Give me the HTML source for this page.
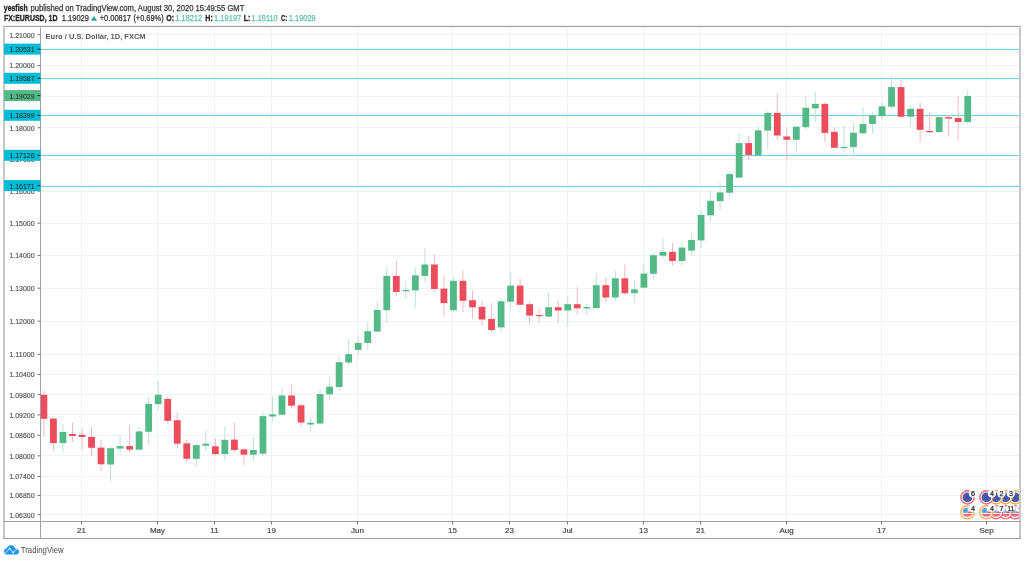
<!DOCTYPE html>
<html><head><meta charset="utf-8"><title>EURUSD chart</title>
<style>html,body{margin:0;padding:0;background:#fff;width:1024px;height:561px;overflow:hidden}svg{display:block;will-change:transform}</style>
</head><body>
<svg width="1024" height="561" viewBox="0 0 1024 561"><rect x="0" y="0" width="1024" height="561" fill="#fff"/>
<defs><clipPath id="pane"><rect x="41.0" y="27.0" width="979.0" height="494.0"/></clipPath></defs>
<g clip-path="url(#pane)">
<line x1="40.5" x2="1020.5" y1="34.50" y2="34.50" stroke="#edf3f8" stroke-width="1"/>
<line x1="40.5" x2="1020.5" y1="65.50" y2="65.50" stroke="#edf3f8" stroke-width="1"/>
<line x1="40.5" x2="1020.5" y1="96.50" y2="96.50" stroke="#edf3f8" stroke-width="1"/>
<line x1="40.5" x2="1020.5" y1="127.50" y2="127.50" stroke="#edf3f8" stroke-width="1"/>
<line x1="40.5" x2="1020.5" y1="159.50" y2="159.50" stroke="#edf3f8" stroke-width="1"/>
<line x1="40.5" x2="1020.5" y1="191.50" y2="191.50" stroke="#edf3f8" stroke-width="1"/>
<line x1="40.5" x2="1020.5" y1="223.50" y2="223.50" stroke="#edf3f8" stroke-width="1"/>
<line x1="40.5" x2="1020.5" y1="255.50" y2="255.50" stroke="#edf3f8" stroke-width="1"/>
<line x1="40.5" x2="1020.5" y1="288.50" y2="288.50" stroke="#edf3f8" stroke-width="1"/>
<line x1="40.5" x2="1020.5" y1="321.50" y2="321.50" stroke="#edf3f8" stroke-width="1"/>
<line x1="40.5" x2="1020.5" y1="354.50" y2="354.50" stroke="#edf3f8" stroke-width="1"/>
<line x1="40.5" x2="1020.5" y1="374.50" y2="374.50" stroke="#edf3f8" stroke-width="1"/>
<line x1="40.5" x2="1020.5" y1="394.50" y2="394.50" stroke="#edf3f8" stroke-width="1"/>
<line x1="40.5" x2="1020.5" y1="414.50" y2="414.50" stroke="#edf3f8" stroke-width="1"/>
<line x1="40.5" x2="1020.5" y1="435.50" y2="435.50" stroke="#edf3f8" stroke-width="1"/>
<line x1="40.5" x2="1020.5" y1="455.50" y2="455.50" stroke="#edf3f8" stroke-width="1"/>
<line x1="40.5" x2="1020.5" y1="476.50" y2="476.50" stroke="#edf3f8" stroke-width="1"/>
<line x1="40.5" x2="1020.5" y1="495.50" y2="495.50" stroke="#edf3f8" stroke-width="1"/>
<line x1="40.5" x2="1020.5" y1="514.50" y2="514.50" stroke="#edf3f8" stroke-width="1"/>
<line x1="81.50" x2="81.50" y1="26.5" y2="521.5" stroke="#edf3f8" stroke-width="1"/>
<line x1="157.50" x2="157.50" y1="26.5" y2="521.5" stroke="#edf3f8" stroke-width="1"/>
<line x1="214.50" x2="214.50" y1="26.5" y2="521.5" stroke="#edf3f8" stroke-width="1"/>
<line x1="271.50" x2="271.50" y1="26.5" y2="521.5" stroke="#edf3f8" stroke-width="1"/>
<line x1="357.50" x2="357.50" y1="26.5" y2="521.5" stroke="#edf3f8" stroke-width="1"/>
<line x1="452.50" x2="452.50" y1="26.5" y2="521.5" stroke="#edf3f8" stroke-width="1"/>
<line x1="509.50" x2="509.50" y1="26.5" y2="521.5" stroke="#edf3f8" stroke-width="1"/>
<line x1="567.50" x2="567.50" y1="26.5" y2="521.5" stroke="#edf3f8" stroke-width="1"/>
<line x1="643.50" x2="643.50" y1="26.5" y2="521.5" stroke="#edf3f8" stroke-width="1"/>
<line x1="700.50" x2="700.50" y1="26.5" y2="521.5" stroke="#edf3f8" stroke-width="1"/>
<line x1="786.50" x2="786.50" y1="26.5" y2="521.5" stroke="#edf3f8" stroke-width="1"/>
<line x1="881.50" x2="881.50" y1="26.5" y2="521.5" stroke="#edf3f8" stroke-width="1"/>
<line x1="986.50" x2="986.50" y1="26.5" y2="521.5" stroke="#edf3f8" stroke-width="1"/>
<line x1="40.5" x2="1020.5" y1="49.50" y2="49.50" stroke="#66d3e2" stroke-width="1.15"/>
<line x1="40.5" x2="1020.5" y1="78.50" y2="78.50" stroke="#66d3e2" stroke-width="1.15"/>
<line x1="40.5" x2="1020.5" y1="115.50" y2="115.50" stroke="#66d3e2" stroke-width="1.15"/>
<line x1="40.5" x2="1020.5" y1="155.50" y2="155.50" stroke="#66d3e2" stroke-width="1.15"/>
<line x1="40.5" x2="1020.5" y1="186.50" y2="186.50" stroke="#66d3e2" stroke-width="1.15"/>
<line x1="43.90" x2="43.90" y1="390.8" y2="436.9" stroke="#f6b8bf" stroke-width="1"/>
<rect x="40.50" y="394.7" width="6.8" height="24.1" fill="#eb4d5c"/>
<line x1="53.43" x2="53.43" y1="418.0" y2="450.6" stroke="#f6b8bf" stroke-width="1"/>
<rect x="50.03" y="418.6" width="6.8" height="24.5" fill="#eb4d5c"/>
<line x1="62.95" x2="62.95" y1="424.1" y2="452.2" stroke="#bde4d0" stroke-width="1"/>
<rect x="59.55" y="432.0" width="6.8" height="11.1" fill="#53b987"/>
<line x1="72.48" x2="72.48" y1="422.7" y2="441.8" stroke="#f6b8bf" stroke-width="1"/>
<rect x="69.08" y="434.0" width="6.8" height="2.0" fill="#eb4d5c"/>
<line x1="82.00" x2="82.00" y1="428.0" y2="450.2" stroke="#f6b8bf" stroke-width="1"/>
<rect x="78.60" y="434.8" width="6.8" height="2.2" fill="#eb4d5c"/>
<line x1="91.52" x2="91.52" y1="426.5" y2="455.5" stroke="#f6b8bf" stroke-width="1"/>
<rect x="88.12" y="436.9" width="6.8" height="10.9" fill="#eb4d5c"/>
<line x1="101.05" x2="101.05" y1="439.8" y2="471.2" stroke="#f6b8bf" stroke-width="1"/>
<rect x="97.65" y="447.6" width="6.8" height="16.7" fill="#eb4d5c"/>
<line x1="110.57" x2="110.57" y1="446.3" y2="481.0" stroke="#bde4d0" stroke-width="1"/>
<rect x="107.17" y="448.2" width="6.8" height="16.3" fill="#53b987"/>
<line x1="120.10" x2="120.10" y1="434.9" y2="452.2" stroke="#bde4d0" stroke-width="1"/>
<rect x="116.70" y="446.1" width="6.8" height="2.5" fill="#53b987"/>
<line x1="129.62" x2="129.62" y1="425.7" y2="452.5" stroke="#f6b8bf" stroke-width="1"/>
<rect x="126.22" y="446.1" width="6.8" height="3.5" fill="#eb4d5c"/>
<line x1="139.14" x2="139.14" y1="426.5" y2="449.8" stroke="#bde4d0" stroke-width="1"/>
<rect x="135.74" y="431.4" width="6.8" height="18.3" fill="#53b987"/>
<line x1="148.67" x2="148.67" y1="397.1" y2="444.7" stroke="#bde4d0" stroke-width="1"/>
<rect x="145.27" y="403.9" width="6.8" height="27.9" fill="#53b987"/>
<line x1="158.19" x2="158.19" y1="381.0" y2="410.4" stroke="#bde4d0" stroke-width="1"/>
<rect x="154.79" y="394.7" width="6.8" height="9.4" fill="#53b987"/>
<line x1="167.72" x2="167.72" y1="397.1" y2="423.5" stroke="#f6b8bf" stroke-width="1"/>
<rect x="164.32" y="399.0" width="6.8" height="21.8" fill="#eb4d5c"/>
<line x1="177.24" x2="177.24" y1="413.0" y2="447.6" stroke="#f6b8bf" stroke-width="1"/>
<rect x="173.84" y="420.2" width="6.8" height="23.5" fill="#eb4d5c"/>
<line x1="186.76" x2="186.76" y1="439.8" y2="462.4" stroke="#f6b8bf" stroke-width="1"/>
<rect x="183.36" y="443.3" width="6.8" height="15.5" fill="#eb4d5c"/>
<line x1="196.29" x2="196.29" y1="444.1" y2="467.3" stroke="#bde4d0" stroke-width="1"/>
<rect x="192.89" y="445.1" width="6.8" height="13.7" fill="#53b987"/>
<line x1="205.81" x2="205.81" y1="430.0" y2="451.0" stroke="#bde4d0" stroke-width="1"/>
<rect x="202.41" y="443.7" width="6.8" height="2.0" fill="#53b987"/>
<line x1="215.34" x2="215.34" y1="438.4" y2="455.5" stroke="#f6b8bf" stroke-width="1"/>
<rect x="211.94" y="446.3" width="6.8" height="7.8" fill="#eb4d5c"/>
<line x1="224.86" x2="224.86" y1="426.5" y2="460.8" stroke="#bde4d0" stroke-width="1"/>
<rect x="221.46" y="439.8" width="6.8" height="14.3" fill="#53b987"/>
<line x1="234.38" x2="234.38" y1="422.5" y2="452.4" stroke="#f6b8bf" stroke-width="1"/>
<rect x="230.98" y="439.6" width="6.8" height="10.4" fill="#eb4d5c"/>
<line x1="243.91" x2="243.91" y1="447.8" y2="465.1" stroke="#f6b8bf" stroke-width="1"/>
<rect x="240.51" y="449.4" width="6.8" height="5.3" fill="#eb4d5c"/>
<line x1="253.43" x2="253.43" y1="438.0" y2="460.2" stroke="#bde4d0" stroke-width="1"/>
<rect x="250.03" y="450.0" width="6.8" height="4.7" fill="#53b987"/>
<line x1="262.96" x2="262.96" y1="412.2" y2="456.3" stroke="#bde4d0" stroke-width="1"/>
<rect x="259.56" y="416.1" width="6.8" height="37.6" fill="#53b987"/>
<line x1="272.48" x2="272.48" y1="396.5" y2="421.0" stroke="#bde4d0" stroke-width="1"/>
<rect x="269.08" y="414.3" width="6.8" height="2.2" fill="#53b987"/>
<line x1="282.00" x2="282.00" y1="388.0" y2="414.7" stroke="#bde4d0" stroke-width="1"/>
<rect x="278.60" y="395.5" width="6.8" height="19.2" fill="#53b987"/>
<line x1="291.53" x2="291.53" y1="384.7" y2="408.8" stroke="#f6b8bf" stroke-width="1"/>
<rect x="288.13" y="395.5" width="6.8" height="10.2" fill="#eb4d5c"/>
<line x1="301.05" x2="301.05" y1="403.7" y2="426.9" stroke="#f6b8bf" stroke-width="1"/>
<rect x="297.65" y="405.3" width="6.8" height="17.2" fill="#eb4d5c"/>
<line x1="310.58" x2="310.58" y1="417.0" y2="431.8" stroke="#bde4d0" stroke-width="1"/>
<rect x="307.18" y="422.9" width="6.8" height="1.6" fill="#53b987"/>
<line x1="320.10" x2="320.10" y1="389.6" y2="424.5" stroke="#bde4d0" stroke-width="1"/>
<rect x="316.70" y="394.1" width="6.8" height="29.4" fill="#53b987"/>
<line x1="329.62" x2="329.62" y1="377.3" y2="399.4" stroke="#bde4d0" stroke-width="1"/>
<rect x="326.22" y="386.7" width="6.8" height="7.6" fill="#53b987"/>
<line x1="339.15" x2="339.15" y1="356.7" y2="391.0" stroke="#bde4d0" stroke-width="1"/>
<rect x="335.75" y="362.2" width="6.8" height="24.9" fill="#53b987"/>
<line x1="348.67" x2="348.67" y1="339.0" y2="365.5" stroke="#bde4d0" stroke-width="1"/>
<rect x="345.27" y="354.1" width="6.8" height="8.4" fill="#53b987"/>
<line x1="358.20" x2="358.20" y1="336.1" y2="354.7" stroke="#bde4d0" stroke-width="1"/>
<rect x="354.80" y="342.9" width="6.8" height="6.9" fill="#53b987"/>
<line x1="367.72" x2="367.72" y1="322.4" y2="349.8" stroke="#bde4d0" stroke-width="1"/>
<rect x="364.32" y="331.2" width="6.8" height="11.7" fill="#53b987"/>
<line x1="377.24" x2="377.24" y1="302.2" y2="331.6" stroke="#bde4d0" stroke-width="1"/>
<rect x="373.84" y="310.0" width="6.8" height="21.6" fill="#53b987"/>
<line x1="386.77" x2="386.77" y1="267.5" y2="322.7" stroke="#bde4d0" stroke-width="1"/>
<rect x="383.37" y="275.9" width="6.8" height="34.3" fill="#53b987"/>
<line x1="396.29" x2="396.29" y1="260.6" y2="295.9" stroke="#f6b8bf" stroke-width="1"/>
<rect x="392.89" y="275.9" width="6.8" height="16.1" fill="#eb4d5c"/>
<line x1="405.82" x2="405.82" y1="281.2" y2="298.8" stroke="#bde4d0" stroke-width="1"/>
<rect x="402.42" y="290.0" width="6.8" height="1.2" fill="#53b987"/>
<line x1="415.34" x2="415.34" y1="267.5" y2="307.6" stroke="#bde4d0" stroke-width="1"/>
<rect x="411.94" y="275.3" width="6.8" height="15.1" fill="#53b987"/>
<line x1="424.86" x2="424.86" y1="247.8" y2="281.6" stroke="#bde4d0" stroke-width="1"/>
<rect x="421.46" y="264.5" width="6.8" height="11.4" fill="#53b987"/>
<line x1="434.39" x2="434.39" y1="254.1" y2="292.0" stroke="#f6b8bf" stroke-width="1"/>
<rect x="430.99" y="264.5" width="6.8" height="24.5" fill="#eb4d5c"/>
<line x1="443.91" x2="443.91" y1="274.9" y2="316.9" stroke="#f6b8bf" stroke-width="1"/>
<rect x="440.51" y="288.6" width="6.8" height="14.5" fill="#eb4d5c"/>
<line x1="453.44" x2="453.44" y1="277.3" y2="311.6" stroke="#bde4d0" stroke-width="1"/>
<rect x="450.04" y="280.8" width="6.8" height="29.4" fill="#53b987"/>
<line x1="462.96" x2="462.96" y1="270.4" y2="312.2" stroke="#f6b8bf" stroke-width="1"/>
<rect x="459.56" y="280.8" width="6.8" height="20.0" fill="#eb4d5c"/>
<line x1="472.48" x2="472.48" y1="290.0" y2="318.8" stroke="#f6b8bf" stroke-width="1"/>
<rect x="469.08" y="300.2" width="6.8" height="7.1" fill="#eb4d5c"/>
<line x1="482.01" x2="482.01" y1="300.9" y2="325.8" stroke="#f6b8bf" stroke-width="1"/>
<rect x="478.61" y="306.8" width="6.8" height="12.7" fill="#eb4d5c"/>
<line x1="491.53" x2="491.53" y1="303.2" y2="331.7" stroke="#f6b8bf" stroke-width="1"/>
<rect x="488.13" y="318.9" width="6.8" height="11.2" fill="#eb4d5c"/>
<line x1="501.06" x2="501.06" y1="297.9" y2="332.1" stroke="#bde4d0" stroke-width="1"/>
<rect x="497.66" y="301.3" width="6.8" height="26.1" fill="#53b987"/>
<line x1="510.58" x2="510.58" y1="271.9" y2="310.5" stroke="#bde4d0" stroke-width="1"/>
<rect x="507.18" y="285.6" width="6.8" height="16.1" fill="#53b987"/>
<line x1="520.10" x2="520.10" y1="279.1" y2="304.8" stroke="#f6b8bf" stroke-width="1"/>
<rect x="516.70" y="285.6" width="6.8" height="19.2" fill="#eb4d5c"/>
<line x1="529.63" x2="529.63" y1="301.3" y2="324.8" stroke="#f6b8bf" stroke-width="1"/>
<rect x="526.23" y="304.2" width="6.8" height="11.4" fill="#eb4d5c"/>
<line x1="539.15" x2="539.15" y1="308.1" y2="322.8" stroke="#f6b8bf" stroke-width="1"/>
<rect x="535.75" y="315.0" width="6.8" height="1.2" fill="#eb4d5c"/>
<line x1="548.68" x2="548.68" y1="292.5" y2="316.6" stroke="#bde4d0" stroke-width="1"/>
<rect x="545.28" y="307.2" width="6.8" height="9.4" fill="#53b987"/>
<line x1="558.20" x2="558.20" y1="300.9" y2="323.8" stroke="#f6b8bf" stroke-width="1"/>
<rect x="554.80" y="307.2" width="6.8" height="3.3" fill="#eb4d5c"/>
<line x1="567.72" x2="567.72" y1="295.8" y2="325.8" stroke="#bde4d0" stroke-width="1"/>
<rect x="564.32" y="304.2" width="6.8" height="6.3" fill="#53b987"/>
<line x1="577.25" x2="577.25" y1="287.2" y2="314.0" stroke="#f6b8bf" stroke-width="1"/>
<rect x="573.85" y="304.2" width="6.8" height="4.1" fill="#eb4d5c"/>
<line x1="586.77" x2="586.77" y1="303.8" y2="315.0" stroke="#bde4d0" stroke-width="1"/>
<rect x="583.37" y="307.0" width="6.8" height="1.5" fill="#53b987"/>
<line x1="596.30" x2="596.30" y1="273.4" y2="308.1" stroke="#bde4d0" stroke-width="1"/>
<rect x="592.90" y="285.2" width="6.8" height="22.9" fill="#53b987"/>
<line x1="605.82" x2="605.82" y1="277.4" y2="301.9" stroke="#f6b8bf" stroke-width="1"/>
<rect x="602.42" y="285.2" width="6.8" height="12.3" fill="#eb4d5c"/>
<line x1="615.34" x2="615.34" y1="270.9" y2="300.9" stroke="#bde4d0" stroke-width="1"/>
<rect x="611.94" y="278.3" width="6.8" height="19.2" fill="#53b987"/>
<line x1="624.87" x2="624.87" y1="264.6" y2="295.0" stroke="#f6b8bf" stroke-width="1"/>
<rect x="621.47" y="278.3" width="6.8" height="14.9" fill="#eb4d5c"/>
<line x1="634.39" x2="634.39" y1="280.3" y2="302.8" stroke="#bde4d0" stroke-width="1"/>
<rect x="630.99" y="289.3" width="6.8" height="3.9" fill="#53b987"/>
<line x1="643.92" x2="643.92" y1="264.0" y2="287.7" stroke="#bde4d0" stroke-width="1"/>
<rect x="640.52" y="273.6" width="6.8" height="14.1" fill="#53b987"/>
<line x1="653.44" x2="653.44" y1="252.5" y2="279.9" stroke="#bde4d0" stroke-width="1"/>
<rect x="650.04" y="255.2" width="6.8" height="18.6" fill="#53b987"/>
<line x1="662.96" x2="662.96" y1="238.4" y2="259.0" stroke="#bde4d0" stroke-width="1"/>
<rect x="659.56" y="251.8" width="6.8" height="3.9" fill="#53b987"/>
<line x1="672.49" x2="672.49" y1="242.4" y2="265.5" stroke="#f6b8bf" stroke-width="1"/>
<rect x="669.09" y="251.8" width="6.8" height="9.2" fill="#eb4d5c"/>
<line x1="682.01" x2="682.01" y1="241.4" y2="264.9" stroke="#bde4d0" stroke-width="1"/>
<rect x="678.61" y="247.6" width="6.8" height="13.4" fill="#53b987"/>
<line x1="691.54" x2="691.54" y1="233.5" y2="255.1" stroke="#bde4d0" stroke-width="1"/>
<rect x="688.14" y="240.0" width="6.8" height="10.6" fill="#53b987"/>
<line x1="701.06" x2="701.06" y1="210.0" y2="248.2" stroke="#bde4d0" stroke-width="1"/>
<rect x="697.66" y="214.9" width="6.8" height="25.5" fill="#53b987"/>
<line x1="710.58" x2="710.58" y1="190.4" y2="221.2" stroke="#bde4d0" stroke-width="1"/>
<rect x="707.18" y="200.8" width="6.8" height="14.5" fill="#53b987"/>
<line x1="720.11" x2="720.11" y1="182.5" y2="210.6" stroke="#bde4d0" stroke-width="1"/>
<rect x="716.71" y="192.4" width="6.8" height="8.8" fill="#53b987"/>
<line x1="729.63" x2="729.63" y1="171.8" y2="197.6" stroke="#bde4d0" stroke-width="1"/>
<rect x="726.23" y="174.1" width="6.8" height="18.6" fill="#53b987"/>
<line x1="739.16" x2="739.16" y1="132.9" y2="177.6" stroke="#bde4d0" stroke-width="1"/>
<rect x="735.76" y="143.1" width="6.8" height="34.5" fill="#53b987"/>
<line x1="748.68" x2="748.68" y1="135.9" y2="160.0" stroke="#f6b8bf" stroke-width="1"/>
<rect x="745.28" y="143.1" width="6.8" height="11.8" fill="#eb4d5c"/>
<line x1="758.20" x2="758.20" y1="125.5" y2="155.1" stroke="#bde4d0" stroke-width="1"/>
<rect x="754.80" y="130.4" width="6.8" height="24.7" fill="#53b987"/>
<line x1="767.73" x2="767.73" y1="111.4" y2="149.6" stroke="#bde4d0" stroke-width="1"/>
<rect x="764.33" y="112.9" width="6.8" height="17.7" fill="#53b987"/>
<line x1="777.25" x2="777.25" y1="93.3" y2="139.8" stroke="#f6b8bf" stroke-width="1"/>
<rect x="773.85" y="112.9" width="6.8" height="22.6" fill="#eb4d5c"/>
<line x1="786.78" x2="786.78" y1="128.6" y2="160.4" stroke="#f6b8bf" stroke-width="1"/>
<rect x="783.38" y="136.5" width="6.8" height="3.3" fill="#eb4d5c"/>
<line x1="796.30" x2="796.30" y1="126.1" y2="152.5" stroke="#bde4d0" stroke-width="1"/>
<rect x="792.90" y="126.7" width="6.8" height="13.1" fill="#53b987"/>
<line x1="805.82" x2="805.82" y1="95.3" y2="130.0" stroke="#bde4d0" stroke-width="1"/>
<rect x="802.42" y="107.8" width="6.8" height="19.3" fill="#53b987"/>
<line x1="815.35" x2="815.35" y1="91.8" y2="122.2" stroke="#bde4d0" stroke-width="1"/>
<rect x="811.95" y="103.9" width="6.8" height="4.5" fill="#53b987"/>
<line x1="824.87" x2="824.87" y1="102.5" y2="142.4" stroke="#f6b8bf" stroke-width="1"/>
<rect x="821.47" y="103.9" width="6.8" height="29.0" fill="#eb4d5c"/>
<line x1="834.40" x2="834.40" y1="127.3" y2="147.8" stroke="#f6b8bf" stroke-width="1"/>
<rect x="831.00" y="131.8" width="6.8" height="16.0" fill="#eb4d5c"/>
<line x1="843.92" x2="843.92" y1="125.3" y2="152.4" stroke="#bde4d0" stroke-width="1"/>
<rect x="840.52" y="146.9" width="6.8" height="1.2" fill="#53b987"/>
<line x1="853.44" x2="853.44" y1="122.5" y2="155.3" stroke="#bde4d0" stroke-width="1"/>
<rect x="850.04" y="132.7" width="6.8" height="14.4" fill="#53b987"/>
<line x1="862.97" x2="862.97" y1="107.3" y2="133.7" stroke="#bde4d0" stroke-width="1"/>
<rect x="859.57" y="123.9" width="6.8" height="9.4" fill="#53b987"/>
<line x1="872.49" x2="872.49" y1="112.2" y2="133.7" stroke="#bde4d0" stroke-width="1"/>
<rect x="869.09" y="115.5" width="6.8" height="8.4" fill="#53b987"/>
<line x1="882.02" x2="882.02" y1="102.4" y2="119.0" stroke="#bde4d0" stroke-width="1"/>
<rect x="878.62" y="106.3" width="6.8" height="9.8" fill="#53b987"/>
<line x1="891.54" x2="891.54" y1="76.3" y2="108.2" stroke="#bde4d0" stroke-width="1"/>
<rect x="888.14" y="87.1" width="6.8" height="19.6" fill="#53b987"/>
<line x1="901.06" x2="901.06" y1="80.2" y2="118.0" stroke="#f6b8bf" stroke-width="1"/>
<rect x="897.66" y="87.1" width="6.8" height="29.6" fill="#eb4d5c"/>
<line x1="910.59" x2="910.59" y1="106.3" y2="126.9" stroke="#bde4d0" stroke-width="1"/>
<rect x="907.19" y="108.8" width="6.8" height="7.9" fill="#53b987"/>
<line x1="920.11" x2="920.11" y1="102.4" y2="142.2" stroke="#f6b8bf" stroke-width="1"/>
<rect x="916.71" y="108.8" width="6.8" height="21.0" fill="#eb4d5c"/>
<line x1="929.64" x2="929.64" y1="111.8" y2="133.1" stroke="#f6b8bf" stroke-width="1"/>
<rect x="926.24" y="131.0" width="6.8" height="1.2" fill="#eb4d5c"/>
<line x1="939.16" x2="939.16" y1="114.1" y2="133.1" stroke="#bde4d0" stroke-width="1"/>
<rect x="935.76" y="117.1" width="6.8" height="14.9" fill="#53b987"/>
<line x1="948.68" x2="948.68" y1="115.1" y2="136.7" stroke="#f6b8bf" stroke-width="1"/>
<rect x="945.28" y="117.1" width="6.8" height="1.5" fill="#eb4d5c"/>
<line x1="958.21" x2="958.21" y1="95.9" y2="139.6" stroke="#f6b8bf" stroke-width="1"/>
<rect x="954.81" y="118.0" width="6.8" height="4.0" fill="#eb4d5c"/>
<line x1="967.73" x2="967.73" y1="90.0" y2="124.5" stroke="#bde4d0" stroke-width="1"/>
<rect x="964.33" y="95.9" width="6.8" height="26.1" fill="#53b987"/>
<circle cx="1015.1" cy="497.4" r="6.6" fill="#fff" stroke="#ffad4d" stroke-width="1.4"/>
<circle cx="1015.1" cy="497.4" r="4.9" fill="#4052ad"/>
<circle cx="1015.1" cy="497.4" r="3.1" fill="none" stroke="#cdb54e" stroke-width="0.7" stroke-dasharray="0.7 1.25"/>
<circle cx="1015.1" cy="512.3" r="6.6" fill="#fff" stroke="#f26b7b" stroke-width="1.4"/>
<clipPath id="u10151"><circle cx="1015.1" cy="512.3" r="4.9"/></clipPath>
<g clip-path="url(#u10151)"><rect x="1010.1" y="507.29999999999995" width="10" height="10" fill="#fff"/><rect x="1010.1" y="507.29999999999995" width="5.4" height="5.6" fill="#68b2f0"/><rect x="1011.3000000000001" y="508.69999999999993" width="0.8" height="3.6" fill="#3f8fdc"/><rect x="1012.9" y="508.09999999999997" width="0.8" height="4.2" fill="#3f8fdc"/><rect x="1015.5" y="511.4" width="5" height="1.6" fill="#ef5b6b"/><rect x="1010.1" y="514.0" width="10" height="1.8" fill="#ef5b6b"/><rect x="1010.1" y="516.4" width="10" height="1.5" fill="#ef5b6b"/></g>
<circle cx="1005.5" cy="497.4" r="6.6" fill="#fff" stroke="#ffad4d" stroke-width="1.4"/>
<circle cx="1005.5" cy="497.4" r="4.9" fill="#4052ad"/>
<circle cx="1005.5" cy="497.4" r="3.1" fill="none" stroke="#cdb54e" stroke-width="0.7" stroke-dasharray="0.7 1.25"/>
<circle cx="1005.5" cy="512.3" r="6.6" fill="#fff" stroke="#f26b7b" stroke-width="1.4"/>
<clipPath id="u10055"><circle cx="1005.5" cy="512.3" r="4.9"/></clipPath>
<g clip-path="url(#u10055)"><rect x="1000.5" y="507.29999999999995" width="10" height="10" fill="#fff"/><rect x="1000.5" y="507.29999999999995" width="5.4" height="5.6" fill="#68b2f0"/><rect x="1001.7" y="508.69999999999993" width="0.8" height="3.6" fill="#3f8fdc"/><rect x="1003.3" y="508.09999999999997" width="0.8" height="4.2" fill="#3f8fdc"/><rect x="1005.9" y="511.4" width="5" height="1.6" fill="#ef5b6b"/><rect x="1000.5" y="514.0" width="10" height="1.8" fill="#ef5b6b"/><rect x="1000.5" y="516.4" width="10" height="1.5" fill="#ef5b6b"/></g>
<circle cx="996.0" cy="497.4" r="6.6" fill="#fff" stroke="#ffad4d" stroke-width="1.4"/>
<circle cx="996.0" cy="497.4" r="4.9" fill="#4052ad"/>
<circle cx="996.0" cy="497.4" r="3.1" fill="none" stroke="#cdb54e" stroke-width="0.7" stroke-dasharray="0.7 1.25"/>
<circle cx="996.0" cy="512.3" r="6.6" fill="#fff" stroke="#f26b7b" stroke-width="1.4"/>
<clipPath id="u9960"><circle cx="996.0" cy="512.3" r="4.9"/></clipPath>
<g clip-path="url(#u9960)"><rect x="991.0" y="507.29999999999995" width="10" height="10" fill="#fff"/><rect x="991.0" y="507.29999999999995" width="5.4" height="5.6" fill="#68b2f0"/><rect x="992.2" y="508.69999999999993" width="0.8" height="3.6" fill="#3f8fdc"/><rect x="993.8" y="508.09999999999997" width="0.8" height="4.2" fill="#3f8fdc"/><rect x="996.4" y="511.4" width="5" height="1.6" fill="#ef5b6b"/><rect x="991.0" y="514.0" width="10" height="1.8" fill="#ef5b6b"/><rect x="991.0" y="516.4" width="10" height="1.5" fill="#ef5b6b"/></g>
<circle cx="986.5" cy="497.4" r="6.6" fill="#fff" stroke="#f26b7b" stroke-width="1.4"/>
<circle cx="986.5" cy="497.4" r="4.9" fill="#4052ad"/>
<circle cx="986.5" cy="497.4" r="3.1" fill="none" stroke="#cdb54e" stroke-width="0.7" stroke-dasharray="0.7 1.25"/>
<circle cx="986.5" cy="512.3" r="6.6" fill="#fff" stroke="#ffad4d" stroke-width="1.4"/>
<clipPath id="u9865"><circle cx="986.5" cy="512.3" r="4.9"/></clipPath>
<g clip-path="url(#u9865)"><rect x="981.5" y="507.29999999999995" width="10" height="10" fill="#fff"/><rect x="981.5" y="507.29999999999995" width="5.4" height="5.6" fill="#68b2f0"/><rect x="982.7" y="508.69999999999993" width="0.8" height="3.6" fill="#3f8fdc"/><rect x="984.3" y="508.09999999999997" width="0.8" height="4.2" fill="#3f8fdc"/><rect x="986.9" y="511.4" width="5" height="1.6" fill="#ef5b6b"/><rect x="981.5" y="514.0" width="10" height="1.8" fill="#ef5b6b"/><rect x="981.5" y="516.4" width="10" height="1.5" fill="#ef5b6b"/></g>
<circle cx="967.5" cy="497.4" r="6.6" fill="#fff" stroke="#f26b7b" stroke-width="1.4"/>
<circle cx="967.5" cy="497.4" r="4.9" fill="#4052ad"/>
<circle cx="967.5" cy="497.4" r="3.1" fill="none" stroke="#cdb54e" stroke-width="0.7" stroke-dasharray="0.7 1.25"/>
<circle cx="967.5" cy="512.3" r="6.6" fill="#fff" stroke="#ffad4d" stroke-width="1.4"/>
<clipPath id="u9675"><circle cx="967.5" cy="512.3" r="4.9"/></clipPath>
<g clip-path="url(#u9675)"><rect x="962.5" y="507.29999999999995" width="10" height="10" fill="#fff"/><rect x="962.5" y="507.29999999999995" width="5.4" height="5.6" fill="#68b2f0"/><rect x="963.7" y="508.69999999999993" width="0.8" height="3.6" fill="#3f8fdc"/><rect x="965.3" y="508.09999999999997" width="0.8" height="4.2" fill="#3f8fdc"/><rect x="967.9" y="511.4" width="5" height="1.6" fill="#ef5b6b"/><rect x="962.5" y="514.0" width="10" height="1.8" fill="#ef5b6b"/><rect x="962.5" y="516.4" width="10" height="1.5" fill="#ef5b6b"/></g>
<circle cx="972.9" cy="493.59999999999997" r="4.1" fill="#fff"/>
<text x="972.9" y="496.2" font-family="Liberation Sans, sans-serif" font-size="7.2" fill="#2a2a2a" stroke="#2a2a2a" stroke-width="0.25" text-anchor="middle">6</text>
<circle cx="972.9" cy="508.09999999999997" r="4.1" fill="#fff"/>
<text x="972.9" y="510.7" font-family="Liberation Sans, sans-serif" font-size="7.2" fill="#2a2a2a" stroke="#2a2a2a" stroke-width="0.25" text-anchor="middle">4</text>
<circle cx="991.9" cy="493.59999999999997" r="4.1" fill="#fff"/>
<text x="991.9" y="496.2" font-family="Liberation Sans, sans-serif" font-size="7.2" fill="#2a2a2a" stroke="#2a2a2a" stroke-width="0.25" text-anchor="middle">4</text>
<circle cx="991.9" cy="508.09999999999997" r="4.1" fill="#fff"/>
<text x="991.9" y="510.7" font-family="Liberation Sans, sans-serif" font-size="7.2" fill="#2a2a2a" stroke="#2a2a2a" stroke-width="0.25" text-anchor="middle">4</text>
<circle cx="1001.4" cy="493.59999999999997" r="4.1" fill="#fff"/>
<text x="1001.4" y="496.2" font-family="Liberation Sans, sans-serif" font-size="7.2" fill="#2a2a2a" stroke="#2a2a2a" stroke-width="0.25" text-anchor="middle">2</text>
<circle cx="1001.4" cy="508.09999999999997" r="4.1" fill="#fff"/>
<text x="1001.4" y="510.7" font-family="Liberation Sans, sans-serif" font-size="7.2" fill="#2a2a2a" stroke="#2a2a2a" stroke-width="0.25" text-anchor="middle">7</text>
<circle cx="1010.9" cy="493.59999999999997" r="4.1" fill="#fff"/>
<text x="1010.9" y="496.2" font-family="Liberation Sans, sans-serif" font-size="7.2" fill="#2a2a2a" stroke="#2a2a2a" stroke-width="0.25" text-anchor="middle">3</text>
<circle cx="1010.9" cy="508.09999999999997" r="4.1" fill="#fff"/>
<text x="1010.9" y="510.7" font-family="Liberation Sans, sans-serif" font-size="7.2" fill="#2a2a2a" stroke="#2a2a2a" stroke-width="0.25" text-anchor="middle" textLength="6.4" lengthAdjust="spacingAndGlyphs">11</text>
<circle cx="1020.5" cy="508.09999999999997" r="4.1" fill="#fff"/>
<text x="1020.5" y="510.7" font-family="Liberation Sans, sans-serif" font-size="7.2" fill="#2a2a2a" stroke="#2a2a2a" stroke-width="0.25" text-anchor="middle">6</text>
</g>
<rect x="3" y="26" width="2" height="513" fill="#c6c6c6"/>
<rect x="1019" y="26" width="2" height="513" fill="#c6c6c6"/>
<rect x="3" y="26" width="1018" height="1" fill="#a2a2a2"/>
<rect x="3" y="538" width="1018" height="1" fill="#a2a2a2"/>
<rect x="3" y="521" width="1018" height="1" fill="#a2a2a2"/>
<rect x="40" y="26" width="1" height="513" fill="#a2a2a2"/>
<rect x="3" y="25" width="1018" height="1" fill="#f0f0f0"/>
<rect x="3" y="27" width="1018" height="1" fill="#f3f3f3" opacity="0.6"/>
<line x1="37.5" x2="40.5" y1="34.75" y2="34.75" stroke="#777" stroke-width="1"/>
<text x="34.5" y="37.65" font-family="Liberation Sans, sans-serif" font-size="8" fill="#555" stroke="#555" stroke-width="0.18" text-anchor="end" textLength="25" lengthAdjust="spacingAndGlyphs">1.21000</text>
<line x1="37.5" x2="40.5" y1="65.50" y2="65.50" stroke="#777" stroke-width="1"/>
<text x="34.5" y="68.40" font-family="Liberation Sans, sans-serif" font-size="8" fill="#555" stroke="#555" stroke-width="0.18" text-anchor="end" textLength="25" lengthAdjust="spacingAndGlyphs">1.20000</text>
<line x1="37.5" x2="40.5" y1="127.77" y2="127.77" stroke="#777" stroke-width="1"/>
<text x="34.5" y="130.67" font-family="Liberation Sans, sans-serif" font-size="8" fill="#555" stroke="#555" stroke-width="0.18" text-anchor="end" textLength="25" lengthAdjust="spacingAndGlyphs">1.18000</text>
<line x1="37.5" x2="40.5" y1="159.30" y2="159.30" stroke="#777" stroke-width="1"/>
<text x="34.5" y="162.20" font-family="Liberation Sans, sans-serif" font-size="8" fill="#555" stroke="#555" stroke-width="0.18" text-anchor="end" textLength="25" lengthAdjust="spacingAndGlyphs">1.17000</text>
<line x1="37.5" x2="40.5" y1="191.10" y2="191.10" stroke="#777" stroke-width="1"/>
<text x="34.5" y="194.00" font-family="Liberation Sans, sans-serif" font-size="8" fill="#555" stroke="#555" stroke-width="0.18" text-anchor="end" textLength="25" lengthAdjust="spacingAndGlyphs">1.16000</text>
<line x1="37.5" x2="40.5" y1="223.18" y2="223.18" stroke="#777" stroke-width="1"/>
<text x="34.5" y="226.08" font-family="Liberation Sans, sans-serif" font-size="8" fill="#555" stroke="#555" stroke-width="0.18" text-anchor="end" textLength="25" lengthAdjust="spacingAndGlyphs">1.15000</text>
<line x1="37.5" x2="40.5" y1="255.54" y2="255.54" stroke="#777" stroke-width="1"/>
<text x="34.5" y="258.44" font-family="Liberation Sans, sans-serif" font-size="8" fill="#555" stroke="#555" stroke-width="0.18" text-anchor="end" textLength="25" lengthAdjust="spacingAndGlyphs">1.14000</text>
<line x1="37.5" x2="40.5" y1="288.18" y2="288.18" stroke="#777" stroke-width="1"/>
<text x="34.5" y="291.08" font-family="Liberation Sans, sans-serif" font-size="8" fill="#555" stroke="#555" stroke-width="0.18" text-anchor="end" textLength="25" lengthAdjust="spacingAndGlyphs">1.13000</text>
<line x1="37.5" x2="40.5" y1="321.12" y2="321.12" stroke="#777" stroke-width="1"/>
<text x="34.5" y="324.02" font-family="Liberation Sans, sans-serif" font-size="8" fill="#555" stroke="#555" stroke-width="0.18" text-anchor="end" textLength="25" lengthAdjust="spacingAndGlyphs">1.12000</text>
<line x1="37.5" x2="40.5" y1="354.35" y2="354.35" stroke="#777" stroke-width="1"/>
<text x="34.5" y="357.25" font-family="Liberation Sans, sans-serif" font-size="8" fill="#555" stroke="#555" stroke-width="0.18" text-anchor="end" textLength="25" lengthAdjust="spacingAndGlyphs">1.11000</text>
<line x1="37.5" x2="40.5" y1="374.43" y2="374.43" stroke="#777" stroke-width="1"/>
<text x="34.5" y="377.33" font-family="Liberation Sans, sans-serif" font-size="8" fill="#555" stroke="#555" stroke-width="0.18" text-anchor="end" textLength="25" lengthAdjust="spacingAndGlyphs">1.10400</text>
<line x1="37.5" x2="40.5" y1="394.62" y2="394.62" stroke="#777" stroke-width="1"/>
<text x="34.5" y="397.52" font-family="Liberation Sans, sans-serif" font-size="8" fill="#555" stroke="#555" stroke-width="0.18" text-anchor="end" textLength="25" lengthAdjust="spacingAndGlyphs">1.09800</text>
<line x1="37.5" x2="40.5" y1="414.92" y2="414.92" stroke="#777" stroke-width="1"/>
<text x="34.5" y="417.82" font-family="Liberation Sans, sans-serif" font-size="8" fill="#555" stroke="#555" stroke-width="0.18" text-anchor="end" textLength="25" lengthAdjust="spacingAndGlyphs">1.09200</text>
<line x1="37.5" x2="40.5" y1="435.33" y2="435.33" stroke="#777" stroke-width="1"/>
<text x="34.5" y="438.23" font-family="Liberation Sans, sans-serif" font-size="8" fill="#555" stroke="#555" stroke-width="0.18" text-anchor="end" textLength="25" lengthAdjust="spacingAndGlyphs">1.08600</text>
<line x1="37.5" x2="40.5" y1="455.86" y2="455.86" stroke="#777" stroke-width="1"/>
<text x="34.5" y="458.76" font-family="Liberation Sans, sans-serif" font-size="8" fill="#555" stroke="#555" stroke-width="0.18" text-anchor="end" textLength="25" lengthAdjust="spacingAndGlyphs">1.08000</text>
<line x1="37.5" x2="40.5" y1="476.50" y2="476.50" stroke="#777" stroke-width="1"/>
<text x="34.5" y="479.40" font-family="Liberation Sans, sans-serif" font-size="8" fill="#555" stroke="#555" stroke-width="0.18" text-anchor="end" textLength="25" lengthAdjust="spacingAndGlyphs">1.07400</text>
<line x1="37.5" x2="40.5" y1="495.52" y2="495.52" stroke="#777" stroke-width="1"/>
<text x="34.5" y="498.42" font-family="Liberation Sans, sans-serif" font-size="8" fill="#555" stroke="#555" stroke-width="0.18" text-anchor="end" textLength="25" lengthAdjust="spacingAndGlyphs">1.06850</text>
<line x1="37.5" x2="40.5" y1="514.64" y2="514.64" stroke="#777" stroke-width="1"/>
<text x="34.5" y="517.54" font-family="Liberation Sans, sans-serif" font-size="8" fill="#555" stroke="#555" stroke-width="0.18" text-anchor="end" textLength="25" lengthAdjust="spacingAndGlyphs">1.06300</text>
<rect x="4" y="43.64" width="36.5" height="11" fill="#00bcd4"/>
<line x1="37.5" x2="40.5" y1="49.14" y2="49.14" stroke="#222" stroke-width="1"/>
<text x="34.5" y="52.04" font-family="Liberation Sans, sans-serif" font-size="8" fill="#1a1a1a" text-anchor="end" textLength="25" lengthAdjust="spacingAndGlyphs">1.20531</text>
<rect x="4" y="72.77" width="36.5" height="11" fill="#00bcd4"/>
<line x1="37.5" x2="40.5" y1="78.27" y2="78.27" stroke="#222" stroke-width="1"/>
<text x="34.5" y="81.17" font-family="Liberation Sans, sans-serif" font-size="8" fill="#1a1a1a" text-anchor="end" textLength="25" lengthAdjust="spacingAndGlyphs">1.19587</text>
<rect x="4" y="90.10" width="36.5" height="11" fill="#53b987"/>
<line x1="37.5" x2="40.5" y1="95.60" y2="95.60" stroke="#222" stroke-width="1"/>
<text x="34.5" y="98.50" font-family="Liberation Sans, sans-serif" font-size="8" fill="#1a1a1a" text-anchor="end" textLength="25" lengthAdjust="spacingAndGlyphs">1.19029</text>
<rect x="4" y="109.76" width="36.5" height="11" fill="#00bcd4"/>
<line x1="37.5" x2="40.5" y1="115.26" y2="115.26" stroke="#222" stroke-width="1"/>
<text x="34.5" y="118.16" font-family="Liberation Sans, sans-serif" font-size="8" fill="#1a1a1a" text-anchor="end" textLength="25" lengthAdjust="spacingAndGlyphs">1.18399</text>
<rect x="4" y="149.81" width="36.5" height="11" fill="#00bcd4"/>
<line x1="37.5" x2="40.5" y1="155.31" y2="155.31" stroke="#222" stroke-width="1"/>
<text x="34.5" y="158.21" font-family="Liberation Sans, sans-serif" font-size="8" fill="#1a1a1a" text-anchor="end" textLength="25" lengthAdjust="spacingAndGlyphs">1.17126</text>
<rect x="4" y="180.15" width="36.5" height="11" fill="#00bcd4"/>
<line x1="37.5" x2="40.5" y1="185.65" y2="185.65" stroke="#222" stroke-width="1"/>
<text x="34.5" y="188.55" font-family="Liberation Sans, sans-serif" font-size="8" fill="#1a1a1a" text-anchor="end" textLength="25" lengthAdjust="spacingAndGlyphs">1.16171</text>
<line x1="81.50" x2="81.50" y1="521.5" y2="524.5" stroke="#777" stroke-width="1"/>
<text x="81.50" y="532.9" font-family="Liberation Sans, sans-serif" font-size="8" stroke="#4a4a4a" stroke-width="0.18" fill="#4a4a4a" text-anchor="middle">21</text>
<line x1="157.50" x2="157.50" y1="521.5" y2="524.5" stroke="#777" stroke-width="1"/>
<text x="157.50" y="532.9" font-family="Liberation Sans, sans-serif" font-size="8" stroke="#4a4a4a" stroke-width="0.22" fill="#4a4a4a" text-anchor="middle">May</text>
<line x1="214.50" x2="214.50" y1="521.5" y2="524.5" stroke="#777" stroke-width="1"/>
<text x="214.50" y="532.9" font-family="Liberation Sans, sans-serif" font-size="8" stroke="#4a4a4a" stroke-width="0.18" fill="#4a4a4a" text-anchor="middle">11</text>
<line x1="271.50" x2="271.50" y1="521.5" y2="524.5" stroke="#777" stroke-width="1"/>
<text x="271.50" y="532.9" font-family="Liberation Sans, sans-serif" font-size="8" stroke="#4a4a4a" stroke-width="0.18" fill="#4a4a4a" text-anchor="middle">19</text>
<line x1="357.50" x2="357.50" y1="521.5" y2="524.5" stroke="#777" stroke-width="1"/>
<text x="357.50" y="532.9" font-family="Liberation Sans, sans-serif" font-size="8" stroke="#4a4a4a" stroke-width="0.22" fill="#4a4a4a" text-anchor="middle">Jun</text>
<line x1="452.50" x2="452.50" y1="521.5" y2="524.5" stroke="#777" stroke-width="1"/>
<text x="452.50" y="532.9" font-family="Liberation Sans, sans-serif" font-size="8" stroke="#4a4a4a" stroke-width="0.18" fill="#4a4a4a" text-anchor="middle">15</text>
<line x1="509.50" x2="509.50" y1="521.5" y2="524.5" stroke="#777" stroke-width="1"/>
<text x="509.50" y="532.9" font-family="Liberation Sans, sans-serif" font-size="8" stroke="#4a4a4a" stroke-width="0.18" fill="#4a4a4a" text-anchor="middle">23</text>
<line x1="567.50" x2="567.50" y1="521.5" y2="524.5" stroke="#777" stroke-width="1"/>
<text x="567.50" y="532.9" font-family="Liberation Sans, sans-serif" font-size="8" stroke="#4a4a4a" stroke-width="0.22" fill="#4a4a4a" text-anchor="middle">Jul</text>
<line x1="643.50" x2="643.50" y1="521.5" y2="524.5" stroke="#777" stroke-width="1"/>
<text x="643.50" y="532.9" font-family="Liberation Sans, sans-serif" font-size="8" stroke="#4a4a4a" stroke-width="0.18" fill="#4a4a4a" text-anchor="middle">13</text>
<line x1="700.50" x2="700.50" y1="521.5" y2="524.5" stroke="#777" stroke-width="1"/>
<text x="700.50" y="532.9" font-family="Liberation Sans, sans-serif" font-size="8" stroke="#4a4a4a" stroke-width="0.18" fill="#4a4a4a" text-anchor="middle">21</text>
<line x1="786.50" x2="786.50" y1="521.5" y2="524.5" stroke="#777" stroke-width="1"/>
<text x="786.50" y="532.9" font-family="Liberation Sans, sans-serif" font-size="8" stroke="#4a4a4a" stroke-width="0.22" fill="#4a4a4a" text-anchor="middle">Aug</text>
<line x1="881.50" x2="881.50" y1="521.5" y2="524.5" stroke="#777" stroke-width="1"/>
<text x="881.50" y="532.9" font-family="Liberation Sans, sans-serif" font-size="8" stroke="#4a4a4a" stroke-width="0.18" fill="#4a4a4a" text-anchor="middle">17</text>
<line x1="986.50" x2="986.50" y1="521.5" y2="524.5" stroke="#777" stroke-width="1"/>
<text x="986.50" y="532.9" font-family="Liberation Sans, sans-serif" font-size="8" stroke="#4a4a4a" stroke-width="0.22" fill="#4a4a4a" text-anchor="middle">Sep</text>
<text x="45.6" y="39.3" font-family="Liberation Sans, sans-serif" font-size="8" font-weight="bold" fill="#5a5a5a" textLength="100" lengthAdjust="spacingAndGlyphs">Euro / U.S. Dollar, 1D, FXCM</text>
<text x="3.8" y="10.5" font-family="Liberation Sans, sans-serif" font-size="8.4" font-weight="bold" fill="#222" stroke="#222" stroke-width="0.3" textLength="23.9" lengthAdjust="spacingAndGlyphs">yesfish</text>
<text x="30.5" y="10.5" font-family="Liberation Sans, sans-serif" font-size="8.4" fill="#363636" stroke="#363636" stroke-width="0.25" textLength="213.9" lengthAdjust="spacingAndGlyphs">published on TradingView.com, August 30, 2020 15:49:55 GMT</text>
<text x="3.9" y="20.7" font-family="Liberation Sans, sans-serif" font-size="8.4" font-weight="bold" fill="#262626" stroke="#262626" stroke-width="0.3" textLength="53.6" lengthAdjust="spacingAndGlyphs">FX:EURUSD, 1D</text>
<text x="61.7" y="20.7" font-family="Liberation Sans, sans-serif" font-size="8.4" font-weight="normal" fill="#333" stroke="#333" stroke-width="0.25" textLength="27.3" lengthAdjust="spacingAndGlyphs">1.19029</text>
<text x="99.7" y="20.7" font-family="Liberation Sans, sans-serif" font-size="8.4" font-weight="normal" fill="#333" stroke="#333" stroke-width="0.25" textLength="31.3" lengthAdjust="spacingAndGlyphs">+0.00817</text>
<text x="133.4" y="20.7" font-family="Liberation Sans, sans-serif" font-size="8.4" font-weight="normal" fill="#333" stroke="#333" stroke-width="0.25" textLength="30.2" lengthAdjust="spacingAndGlyphs">(+0.69%)</text>
<text x="166.3" y="20.7" font-family="Liberation Sans, sans-serif" font-size="8.4" font-weight="bold" fill="#262626" stroke="#262626" stroke-width="0.3" textLength="7.9" lengthAdjust="spacingAndGlyphs">O:</text>
<text x="175.3" y="20.7" font-family="Liberation Sans, sans-serif" font-size="8.4" font-weight="normal" fill="#5fbfb0" stroke="#5fbfb0" stroke-width="0.25" textLength="26.9" lengthAdjust="spacingAndGlyphs">1.18212</text>
<text x="205.3" y="20.7" font-family="Liberation Sans, sans-serif" font-size="8.4" font-weight="bold" fill="#262626" stroke="#262626" stroke-width="0.3" textLength="7.5" lengthAdjust="spacingAndGlyphs">H:</text>
<text x="214.1" y="20.7" font-family="Liberation Sans, sans-serif" font-size="8.4" font-weight="normal" fill="#5fbfb0" stroke="#5fbfb0" stroke-width="0.25" textLength="27.2" lengthAdjust="spacingAndGlyphs">1.19197</text>
<text x="243.75" y="20.7" font-family="Liberation Sans, sans-serif" font-size="8.4" font-weight="bold" fill="#262626" stroke="#262626" stroke-width="0.3" textLength="6.6" lengthAdjust="spacingAndGlyphs">L:</text>
<text x="251.6" y="20.7" font-family="Liberation Sans, sans-serif" font-size="8.4" font-weight="normal" fill="#5fbfb0" stroke="#5fbfb0" stroke-width="0.25" textLength="26.1" lengthAdjust="spacingAndGlyphs">1.18110</text>
<text x="281.0" y="20.7" font-family="Liberation Sans, sans-serif" font-size="8.4" font-weight="bold" fill="#262626" stroke="#262626" stroke-width="0.3" textLength="6.1" lengthAdjust="spacingAndGlyphs">C:</text>
<text x="288.8" y="20.7" font-family="Liberation Sans, sans-serif" font-size="8.4" font-weight="normal" fill="#5fbfb0" stroke="#5fbfb0" stroke-width="0.25" textLength="26.9" lengthAdjust="spacingAndGlyphs">1.19029</text>
<path d="M90.9 20.8 L94 15.8 L97.1 20.8 Z" fill="#2aa79b"/>
<g transform="translate(0,0)"><path d="M4.2 552.3 C3.4 550.5 4.6 548.6 6.6 548.6 C7.2 546.2 9.2 545 11.4 545.2 C13.4 545.4 14.6 546.7 15.2 548.4 C17.4 548.3 19.2 549.8 19.1 551.8 C19 553.5 17.7 554.4 16.2 554.4 L6.3 554.4 C5.3 554.4 4.6 553.4 4.2 552.3 Z" fill="#2196f3"/><path d="M5 553.4 L9.6 548.6 L13.2 552.3 L17.6 548.6" stroke="#fff" stroke-width="0.7" fill="none"/><circle cx="9.6" cy="548.6" r="0.9" fill="#fff"/><circle cx="13.2" cy="552.3" r="0.9" fill="#fff"/></g>
<text x="20.8" y="552.7" font-family="Liberation Sans, sans-serif" font-size="9" fill="#4a4a4a" textLength="42.8" lengthAdjust="spacingAndGlyphs">TradingView</text></svg>
</body></html>
